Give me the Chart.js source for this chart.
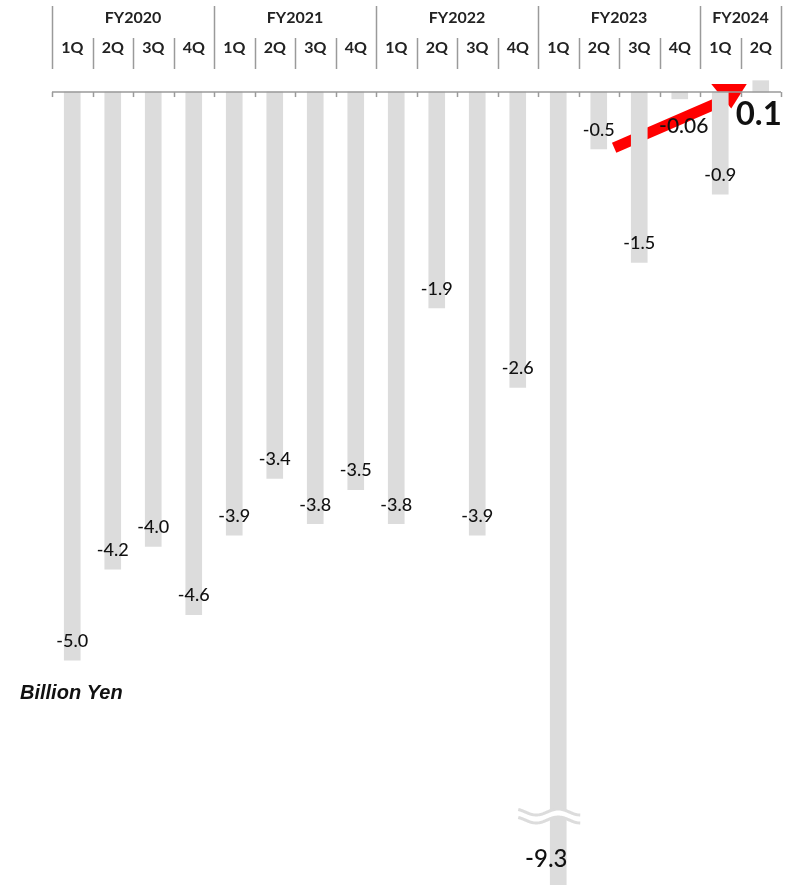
<!DOCTYPE html>
<html>
<head>
<meta charset="utf-8">
<script src="https://cdn.jsdelivr.net/npm/chart.js@4/dist/chart.umd.min.js"></script>
<style>
  html, body { margin: 0; padding: 0; background: #ffffff; }
  #wrap { position: relative; width: 796px; height: 885px; }
</style>
</head>
<body>
<div id="wrap"><canvas id="chart"></canvas></div>
<script>
// Quarterly operating result, billion yen
const quarters = ['1Q','2Q','3Q','4Q','1Q','2Q','3Q','4Q','1Q','2Q','3Q','4Q','1Q','2Q','3Q','4Q','1Q','2Q'];
const fiscalYears = ['FY2020','FY2021','FY2022','FY2023','FY2024'];
const quartersPerYear = [4, 4, 4, 4, 2];
const values = [-5.0, -4.2, -4.0, -4.6, -3.9, -3.4, -3.8, -3.5, -3.8, -1.9, -3.9, -2.6, -9.3, -0.5, -1.5, -0.06, -0.9, 0.1];
const unitLabel = 'Billion Yen';

const FONT = 'Lato, "Noto Sans", sans-serif';
const GRID = '#9a9a9a';

function fmt(v) {
  return Math.abs(v) < 0.1 ? v.toFixed(2) : v.toFixed(1);
}

// Red trend arrow, drawn under the bars
const arrowPlugin = {
  id: 'trendArrow',
  beforeDatasetsDraw(chart) {
    const { ctx, scales: { x, y } } = chart;
    const w = (x.right - x.left) / quarters.length;
    const sx = x.getPixelForValue(13) + 0.38 * w, sy = y.getPixelForValue(-0.49);
    const ex = x.getPixelForValue(16) + 4, ey = y.getPixelForValue(-0.07);
    ctx.save();
    ctx.strokeStyle = '#ff0000';
    ctx.fillStyle = '#ff0000';
    ctx.lineWidth = 11;
    ctx.lineCap = 'butt';
    ctx.beginPath();
    ctx.moveTo(sx, sy);
    ctx.lineTo(ex, ey);
    ctx.stroke();
    ctx.beginPath();
    ctx.moveTo(x.getPixelForValue(16) - 9, y.getPixelForValue(0.07));
    ctx.lineTo(x.getPixelForValue(17) - 14, y.getPixelForValue(0.07));
    ctx.lineTo(x.getPixelForValue(16) + 11, y.getPixelForValue(-0.145));
    ctx.closePath();
    ctx.fill();
    ctx.restore();
  }
};

// Header (fiscal years / quarters), baseline axis, value labels, break mark
const decorPlugin = {
  id: 'decor',
  afterDraw(chart) {
    const { ctx, scales: { x, y }, chartArea } = chart;
    const n = quarters.length;
    const w = (x.right - x.left) / n;
    const zeroY = y.getPixelForValue(0);
    ctx.save();

    // header separators
    ctx.strokeStyle = GRID;
    ctx.lineWidth = 1.5;
    let idx = 0;
    const yearStarts = [];
    fiscalYears.forEach((fy, k) => { yearStarts.push(idx); idx += quartersPerYear[k]; });
    for (let i = 0; i <= n; i++) {
      const bx = Math.round(x.left + i * w) + 0.5;
      const isYear = yearStarts.includes(i) || i === n;
      ctx.beginPath();
      ctx.moveTo(bx, isYear ? 6 : 38);
      ctx.lineTo(bx, 69);
      ctx.stroke();
    }

    // header texts
    ctx.fillStyle = '#222222';
    ctx.textAlign = 'center';
    ctx.textBaseline = 'middle';
    ctx.font = 'bold 16px ' + FONT;
    fiscalYears.forEach((fy, k) => {
      const a = x.left + yearStarts[k] * w;
      const b = a + quartersPerYear[k] * w;
      ctx.fillText(fy, (a + b) / 2, 18);
    });
    quarters.forEach((q, i) => {
      ctx.fillText(q, x.getPixelForValue(i), 48);
    });

    // baseline with small ticks
    ctx.strokeStyle = GRID;
    ctx.lineWidth = 1.5;
    ctx.beginPath();
    ctx.moveTo(x.left, zeroY);
    ctx.lineTo(x.right, zeroY);
    ctx.stroke();
    for (let i = 0; i <= n; i++) {
      const bx = Math.round(x.left + i * w) + 0.5;
      ctx.beginPath();
      ctx.moveTo(bx, zeroY);
      ctx.lineTo(bx, zeroY + 5);
      ctx.stroke();
    }

    // break mark on the clipped bar
    const meta = chart.getDatasetMeta(0);
    const brk = meta.data[12];
    const cx = brk.x, by = 812;
    const wave = (x0, x1, yy) => {
      ctx.beginPath();
      for (let px = x0; px <= x1; px += 1) {
        const py = yy - 3 * Math.cos((px - cx) * 2 * Math.PI / 44);
        if (px === x0) ctx.moveTo(px, py); else ctx.lineTo(px, py);
      }
    };
    ctx.fillStyle = '#ffffff';
    ctx.beginPath();
    ctx.rect(cx - 10, by - 2, 20, 8);
    ctx.fill();
    ctx.strokeStyle = '#dcdcdc';
    ctx.lineWidth = 3;
    wave(cx - 40, cx + 22, by);
    ctx.stroke();
    wave(cx - 40, cx + 22, by + 8);
    ctx.stroke();

    // value labels
    ctx.fillStyle = '#111111';
    ctx.textAlign = 'center';
    ctx.textBaseline = 'middle';
    meta.data.forEach((bar, i) => {
      const v = values[i];
      const t = fmt(v);
      if (i === 12) {
        ctx.font = '500 24px ' + FONT;
        ctx.fillText(t, bar.x - 12, chartArea.bottom - 26);
      } else if (i === 15) {
        ctx.font = '500 21px ' + FONT;
        ctx.fillText(t, bar.x + 4, bar.y + 27);
      } else if (i === 17) {
        ctx.font = 'bold 33px ' + FONT;
        ctx.fillText(t, bar.x - 2, zeroY + 22);
      } else {
        ctx.font = '500 18px ' + FONT;
        ctx.fillText(t, bar.x, bar.y - 19);
      }
    });

    // unit caption
    ctx.textAlign = 'left';
    ctx.font = 'italic bold 20px "Liberation Sans", Arial, sans-serif';
    ctx.fillText(unitLabel, 20, 693);

    ctx.restore();
  }
};

new Chart(document.getElementById('chart'), {
  type: 'bar',
  data: {
    labels: quarters,
    datasets: [{
      data: values,
      backgroundColor: '#dcdcdc',
      borderWidth: 0,
      barThickness: 16
    }]
  },
  options: {
    responsive: true,
    maintainAspectRatio: false,
    animation: false,
    layout: { padding: { left: 52, right: 15, top: 75, bottom: 0 } },
    plugins: { legend: { display: false }, tooltip: { enabled: false } },
    scales: {
      x: { display: false, offset: true, grid: { display: false } },
      y: { display: false, min: -6.98, max: 0.15 }
    }
  },
  plugins: [arrowPlugin, decorPlugin]
});
</script>
</body>
</html>
